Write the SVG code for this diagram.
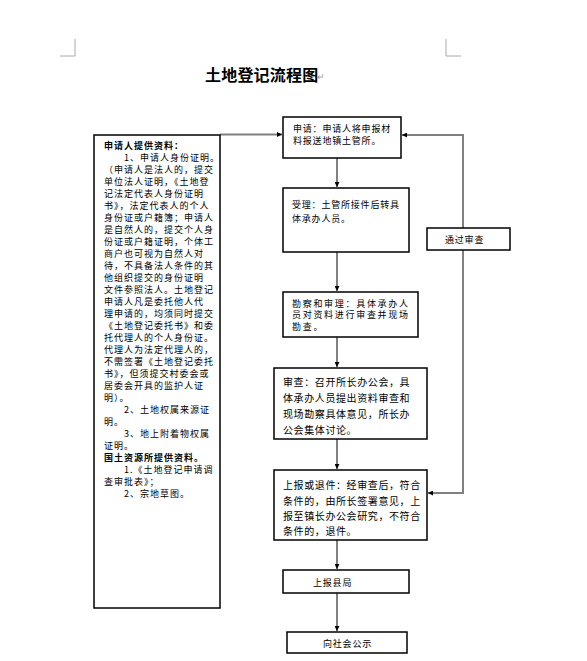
<svg xmlns="http://www.w3.org/2000/svg" width="587" height="661" viewBox="0 0 587 661">
<style>
text{font-family:"Noto Sans CJK SC","Liberation Sans",sans-serif;fill:#000;dominant-baseline:central}
.t{font-size:9px;letter-spacing:1px}
.t1{font-size:9px;letter-spacing:0.8px}
.t2{font-size:10px;letter-spacing:0.6px}
.t3{font-size:9.5px;letter-spacing:1.2px}
.b{font-weight:bold}
.box{fill:#fff;stroke:#000;stroke-width:1.5}
.con{fill:none;stroke:#808080;stroke-width:2}
.mark{fill:none;stroke:#aaa;stroke-width:1}
</style>
<defs>
<marker id="ah" viewBox="0 0 10 10" refX="10" refY="5" markerWidth="5" markerHeight="5" orient="auto" markerUnits="userSpaceOnUse">
<path d="M0,0 L10,5 L0,10 z" fill="#000"/>
</marker>
</defs>
<rect width="587" height="661" fill="#fff"/>
<g id="page-marks">
<path class="mark" d="M75,39 V56 H60 M446,39 V56 H461"/>
</g>
<g id="title">
<text x="205" y="74" style="font-size:16px;font-weight:bold;letter-spacing:0.2px">土地登记流程图</text>
<text x="317" y="76" style="font-size:9px;fill:#999">↵</text>
</g>
<g id="connectors">
<path class="con" d="M220,134.5 H282" marker-end="url(#ah)"/>
<path class="con" d="M463,228 V135 H402" marker-end="url(#ah)"/>
<path class="con" d="M463,250 V493 H428" marker-end="url(#ah)"/>
<path class="con" d="M337,158 V187" marker-end="url(#ah)"/>
<path class="con" d="M337,252 V291" marker-end="url(#ah)"/>
<path class="con" d="M337,337 V367" marker-end="url(#ah)"/>
<path class="con" d="M337,439 V469" marker-end="url(#ah)"/>
<path class="con" d="M337,540 V569" marker-end="url(#ah)"/>
<path class="con" d="M337,593 V631" marker-end="url(#ah)"/>
</g>
<g id="materials">
<rect class="box" x="94" y="135" width="126" height="473"/>
<text class="t b" x="104" y="145">申请人提供资料：</text>
<text class="t" x="124" y="157">1、申请人身份证明。</text>
<text class="t" x="104" y="169">（申请人是法人的，提交</text>
<text class="t" x="104" y="181">单位法人证明，《土地登</text>
<text class="t" x="104" y="193">记法定代表人身份证明</text>
<text class="t" x="104" y="205">书》，法定代表人的个人</text>
<text class="t" x="104" y="217">身份证或户籍簿；申请人</text>
<text class="t" x="104" y="229">是自然人的，提交个人身</text>
<text class="t" x="104" y="241">份证或户籍证明，个体工</text>
<text class="t" x="104" y="253">商户也可视为自然人对</text>
<text class="t" x="104" y="265">待，不具备法人条件的其</text>
<text class="t" x="104" y="277">他组织提交的身份证明</text>
<text class="t" x="104" y="289">文件参照法人。土地登记</text>
<text class="t" x="104" y="301">申请人凡是委托他人代</text>
<text class="t" x="104" y="313">理申请的，均须同时提交</text>
<text class="t" x="104" y="325">《土地登记委托书》和委</text>
<text class="t" x="104" y="337">托代理人的个人身份证。</text>
<text class="t" x="104" y="349">代理人为法定代理人的，</text>
<text class="t" x="104" y="361">不需签署《土地登记委托</text>
<text class="t" x="104" y="373">书》，但须提交村委会或</text>
<text class="t" x="104" y="385">居委会开具的监护人证</text>
<text class="t" x="104" y="397">明）。</text>
<text class="t" x="124" y="409">2、土地权属来源证</text>
<text class="t" x="104" y="421">明。</text>
<text class="t" x="124" y="433">3、地上附着物权属</text>
<text class="t" x="104" y="445">证明。</text>
<text class="t b" x="104" y="457">国土资源所提供资料。</text>
<text class="t" x="124" y="469">1.《土地登记申请调</text>
<text class="t" x="104" y="481">查审批表》；</text>
<text class="t" x="124" y="493">2、宗地草图。</text>
</g>
<g id="apply">
<rect class="box" x="283" y="117" width="118" height="41"/>
<text class="t1" x="293" y="128">申请：申请人将申报材</text>
<text class="t1" x="293" y="140">料报送地镇土管所。</text>
</g>
<g id="accept">
<rect class="box" x="283" y="188" width="126" height="64"/>
<text class="t1" x="292" y="204">受理：土管所接件后转具</text>
<text class="t1" x="292" y="218">体承办人员。</text>
</g>
<g id="survey">
<rect class="box" x="283" y="292" width="135" height="45"/>
<text class="t1" x="292" y="303" style="letter-spacing:1.7px">勘察和审理：具体承办人</text>
<text class="t1" x="292" y="314.5" style="letter-spacing:1.7px">员对资料进行审查并现场</text>
<text class="t1" x="292" y="326" style="letter-spacing:1.7px">勘查。</text>
</g>
<g id="review">
<rect class="box" x="274" y="368" width="153" height="71"/>
<text class="t2" x="283" y="381">审查：召开所长办公会，具</text>
<text class="t2" x="283" y="397">体承办人员提出资料审查和</text>
<text class="t2" x="283" y="413">现场勘察具体意见，所长办</text>
<text class="t2" x="283" y="429">公会集体讨论。</text>
</g>
<g id="report">
<rect class="box" x="274" y="470" width="153" height="70"/>
<text class="t2" x="283" y="484.5">上报或退件：经审查后，符合</text>
<text class="t2" x="283" y="500">条件的，由所长签署意见，上</text>
<text class="t2" x="283" y="515">报至镇长办公会研究，不符合</text>
<text class="t2" x="283" y="530">条件的，退件。</text>
</g>
<g id="county">
<rect class="box" x="283" y="570" width="126" height="23"/>
<text class="t1" x="313" y="582">上报县局</text>
</g>
<g id="publish">
<rect class="box" x="287" y="632" width="120" height="21"/>
<text class="t1" x="323" y="643">向社会公示</text>
</g>
<g id="passed">
<rect class="box" x="427" y="228" width="83" height="22"/>
<text class="t1" x="445" y="239">通过审查</text>
</g>
</svg>
